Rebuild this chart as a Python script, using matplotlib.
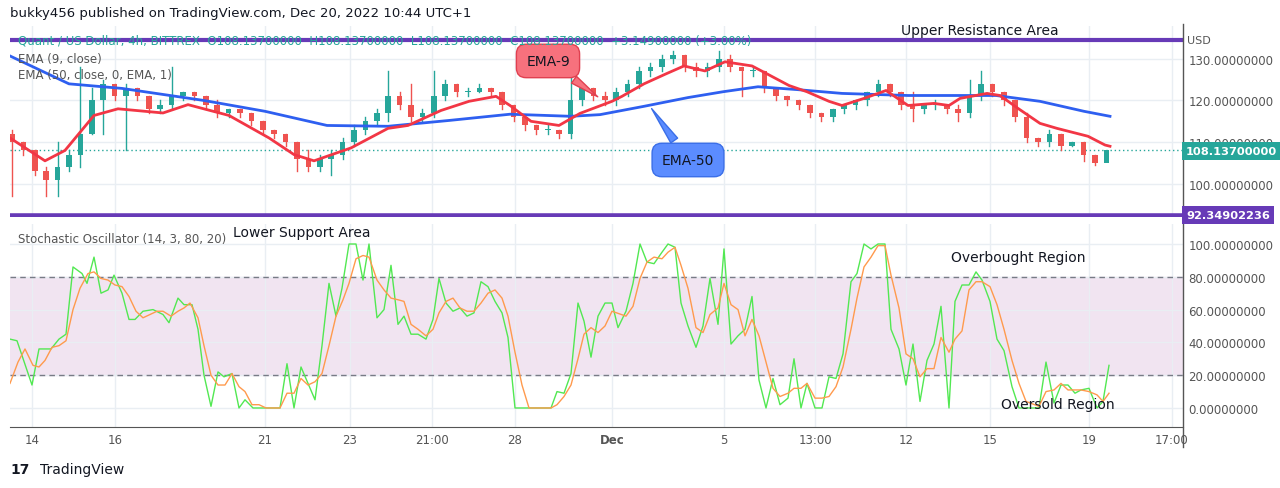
import matplotlib.pyplot as plt
import numpy as np

# price candles (4h bars)
closes = [110, 108, 103, 101, 104, 107, 112, 120, 124, 121, 123, 121, 118, 119, 121, 122, 121, 119, 117, 118,
          117, 115, 113, 112, 110, 106, 104, 106, 107, 110, 113, 115, 117, 121, 119, 116, 117, 121, 124, 122,
          122, 123, 122, 119, 116, 114, 113, 113, 112, 120, 123, 121, 120, 122, 124, 127, 128, 130, 131, 128,
          127, 128, 130, 128, 127, 127, 123, 121, 120, 119, 117, 116, 118, 119, 120, 122, 124, 122, 119, 118,
          119, 119, 118, 117, 121, 124, 122, 120, 116, 111, 110, 112, 109, 110, 107, 105, 108.137]
highs = [113, 110, 108, 104, 110, 108, 128, 123, 125, 124, 124, 123, 121, 120, 128, 122, 122, 121, 120, 118,
         118, 117, 115, 113, 112, 110, 108, 107, 108, 111, 114, 116, 118, 127, 122, 124, 118, 127, 125, 124,
         123, 124, 123, 122, 119, 116, 114, 114, 113, 130, 124, 123, 122, 123, 125, 128, 129, 131, 132, 131,
         129, 129, 132, 131, 128, 128, 127, 123, 121, 120, 119, 117, 118, 119, 120, 122, 125, 124, 122, 122,
         119, 120, 119, 119, 125, 127, 124, 122, 120, 117, 111, 113, 112, 110, 110, 107, 108.2]
lows = [97, 107, 102, 97, 97, 103, 104, 112, 112, 120, 108, 120, 117, 117, 118, 120, 120, 118, 116, 116,
        116, 114, 112, 111, 109, 103, 103, 103, 102, 106, 109, 112, 114, 115, 118, 115, 115, 116, 120, 121,
        121, 122, 121, 118, 115, 113, 112, 112, 111, 111, 119, 120, 119, 119, 121, 123, 126, 127, 129, 127,
        126, 126, 127, 127, 121, 126, 122, 120, 119, 118, 116, 115, 115, 117, 118, 119, 121, 121, 118, 115,
        117, 118, 117, 115, 116, 120, 121, 119, 115, 110, 109, 109, 108, 109, 105.5, 104.5, 108.1]
opens = [112] + closes[:-1]

# EMA lines (time in chart units, value)
ema9_t = [10, 45, 65, 94, 118, 163, 188, 229, 269, 294, 314, 351, 388, 408, 441, 469, 496, 510, 531, 559,
          580, 612, 622, 644, 666, 684, 705, 725, 752, 767, 789, 807, 829, 842, 864, 886, 908, 934, 949,
          960, 987, 1000, 1018, 1040, 1057, 1088, 1105, 1110]
ema9_v = [111, 105.5, 108, 116.4, 118, 117, 119, 116.4, 111, 107, 105.5, 108.6, 113.3, 114, 117.6, 119.8,
          121, 118.8, 115, 114, 116.9, 119.8, 121, 124, 126.4, 128.3, 127.1, 129.3, 128.3, 126.4, 123.6,
          122.1, 119.8, 118.8, 120.5, 122.4, 118.8, 119.3, 118.8, 120.5, 121.7, 121.2, 118.1, 114.5, 113.3,
          111.4, 109.3, 109]
ema50_t = [10, 69, 122, 204, 265, 327, 388, 449, 510, 571, 600, 644, 688, 723, 758, 798, 842, 908, 952,
           996, 1040, 1084, 1110]
ema50_v = [130.7, 124, 122.9, 120, 117.4, 114, 113.8, 115.2, 116.7, 116.2, 116.6, 118.6, 120.7, 122.1,
           123.3, 122.6, 121.7, 121.2, 121.2, 121.2, 119.8, 117.4, 116.2]

# stochastic %K and %D
k_t = [10, 17, 32, 39, 51, 59, 66, 73, 82, 87, 94, 101, 108, 114, 122, 129, 135, 143, 153, 163, 169, 178,
       184, 192, 198, 204, 211, 218, 224, 232, 239, 245, 253, 280, 287, 294, 301, 308, 315, 322, 329, 336,
       342, 349, 356, 363, 369, 377, 384, 391, 398, 404, 411, 418, 426, 433, 439, 446, 453, 460, 467, 474,
       481, 488, 495, 502, 508, 515, 551, 557, 564, 571, 578, 584, 591, 598, 605, 612, 618, 626, 633, 640,
       647, 654, 662, 668, 675, 681, 688, 696, 703, 710, 718, 724, 731, 738, 745, 752, 759, 766, 773, 780,
       788, 794, 801, 807, 815, 822, 829, 836, 843, 851, 857, 864, 871, 878, 885, 891, 899, 906, 913, 920,
       927, 934, 941, 949, 955, 962, 969, 976, 982, 990, 997, 1004, 1012, 1019, 1026, 1039, 1046, 1054,
       1061, 1068, 1075, 1081, 1089, 1097, 1103, 1109]
k_v = [42, 41, 14, 36, 36, 42, 45, 86, 82, 76, 92, 70, 72, 81, 70, 54, 54, 59, 60, 57, 52, 67, 63, 63, 48,
       20, 1, 22, 19, 21, 0, 5, 0, 0, 27, 0, 25, 15, 5, 38, 76, 56, 73, 100, 100, 78, 100, 55, 60, 87, 51,
       56, 45, 45, 42, 54, 79, 64, 59, 61, 56, 58, 77, 74, 65, 58, 43, 0, 0, 10, 9, 21, 64, 53, 31, 56, 64,
       64, 49, 59, 76, 100, 89, 88, 95, 100, 98, 64, 50, 37, 50, 79, 51, 97, 39, 44, 48, 68, 17, 0, 18, 2,
       6, 30, 0, 15, 0, 0, 19, 18, 33, 77, 82, 100, 97, 100, 100, 48, 36, 14, 39, 4, 29, 39, 62, 0, 65, 75,
       75, 83, 78, 65, 42, 35, 13, 0, 0, 0, 28, 3, 14, 14, 9, 11, 12, 0, 4, 26]
d_t = [10, 18, 25, 33, 39, 45, 52, 59, 66, 73, 80, 88, 94, 101, 108, 115, 122, 129, 136, 143, 150, 157, 163,
       171, 178, 184, 190, 198, 204, 211, 218, 225, 232, 239, 245, 252, 259, 266, 280, 287, 294, 301, 308,
       315, 322, 329, 336, 343, 349, 356, 363, 369, 377, 384, 391, 398, 404, 411, 418, 426, 433, 439, 446,
       453, 460, 467, 474, 481, 488, 495, 502, 508, 515, 522, 529, 551, 557, 564, 571, 578, 584, 591, 598,
       605, 612, 626, 633, 640, 647, 654, 662, 668, 675, 681, 688, 696, 703, 710, 718, 724, 731, 738, 745,
       752, 759, 766, 773, 780, 788, 794, 801, 807, 815, 822, 829, 836, 843, 851, 857, 864, 871, 878, 885,
       891, 899, 906, 913, 920, 927, 934, 941, 949, 955, 962, 969, 976, 982, 990, 997, 1004, 1012, 1019,
       1026, 1039, 1046, 1054, 1061, 1068, 1075, 1081, 1089, 1097, 1103, 1109]
d_v = [15, 28, 36, 26, 25, 29, 37, 38, 41, 60, 73, 82, 83, 79, 78, 75, 74, 68, 59, 55, 57, 59, 59, 56, 59,
       61, 64, 55, 38, 20, 14, 14, 21, 13, 10, 2, 2, 0, 0, 9, 9, 18, 14, 16, 21, 38, 56, 66, 76, 91, 93, 92,
       78, 72, 67, 66, 65, 51, 48, 44, 48, 58, 65, 67, 61, 59, 59, 64, 70, 72, 67, 56, 34, 14, 0, 0, 2, 7,
       14, 30, 45, 49, 46, 50, 59, 56, 62, 79, 89, 92, 91, 95, 98, 87, 73, 49, 46, 57, 61, 76, 63, 60, 44,
       54, 44, 28, 12, 7, 9, 12, 12, 15, 6, 6, 7, 13, 25, 48, 67, 86, 92, 99, 99, 81, 61, 33, 30, 19, 24,
       24, 43, 34, 42, 47, 72, 77, 77, 74, 63, 48, 29, 15, 4, 1, 10, 11, 15, 11, 11, 11, 10, 8, 4, 9]

price_ticks = [100, 110, 120, 130]
stoch_ticks = [0, 20, 40, 60, 80, 100]
date_pos = [32, 115, 265, 350, 432, 515, 612, 724, 815, 906, 990, 1089, 1172]
date_lbl = ['14', '16', '21', '23', '21:00', '28', 'Dec', '5', '13:00', '12', '15', '19', '17:00']
last_price = 108.137
support = 92.34902236
resistance = 134.5

UP, DN = '#26a69a', '#ef5350'
GRID = '#e9eef3'
TXT = '#131722'

W, H = 1280, 489
fig = plt.figure(figsize=(12.8, 4.89), dpi=100)
x0, x1 = 10 / W, 1183 / W
ax = fig.add_axes([x0, 1 - 218 / H, x1 - x0, (218 - 27) / H])
ax2 = fig.add_axes([x0, 1 - 428 / H, x1 - x0, (428 - 225) / H])
xlim = (10, 1183)

# candles
bar_t = 12 + 11.4 * np.arange(len(closes))
for t, o, c, h, l in zip(bar_t, opens, closes, highs, lows):
    col = UP if c >= o else DN
    ax.plot([t, t], [l, h], color=col, lw=1, zorder=3)
    ax.bar(t, max(abs(c - o), 0.25), bottom=min(o, c), width=5.5, color=col, zorder=3)

ax.plot(ema50_t, ema50_v, color='#2e5ff0', lw=2, zorder=4)
ax.plot(ema9_t, ema9_v, color='#f23645', lw=2, zorder=4)
ax.axhline(last_price, color=UP, lw=1, ls=(0, (1, 2)), zorder=2)
ax.axhline(resistance, color='#673ab7', lw=3, zorder=5)
ax.axhline(support, color='#673ab7', lw=4, zorder=5)

ax.set_xlim(*xlim)
ax.set_ylim(92.0, 137.9)
ax.set_yticks(price_ticks)
ax.set_xticks(date_pos)
ax.grid(color=GRID, lw=1)
ax.tick_params(length=0, labelbottom=False, labelleft=False, labelright=True, labelsize=8.5, colors='#555', pad=4)
for s in ax.spines.values():
    s.set_visible(False)
ax.yaxis.set_major_formatter(plt.FuncFormatter(lambda v, p: f'{v:.8f}'))

# stochastic
ax2.axhspan(20, 80, color='#f1e4f1', zorder=0)
ax2.axhline(80, color='#787b86', lw=1, ls=(0, (4, 3)))
ax2.axhline(20, color='#787b86', lw=1, ls=(0, (4, 3)))
ax2.plot(k_t, k_v, color='#52e852', lw=1, zorder=3)
ax2.plot(d_t, d_v, color='#ff9a4d', lw=1, zorder=3)
ax2.set_xlim(*xlim)
ax2.set_ylim(-11.6, 112.2)
ax2.set_yticks(stoch_ticks)
ax2.set_xticks(date_pos)
ax2.set_xticklabels(date_lbl)
ax2.get_xticklabels()[6].set_fontweight('bold')
ax2.grid(color=GRID, lw=1)
ax2.tick_params(length=0, labelleft=False, labelright=True, labelsize=8.5, colors='#555', pad=4)
for s in ax2.spines.values():
    s.set_visible(False)
ax2.spines['bottom'].set_visible(True)
ax2.spines['bottom'].set_color('#555')
ax2.yaxis.set_major_formatter(plt.FuncFormatter(lambda v, p: f'{v:.8f}'))

# right axis separator and price boxes
fig.add_artist(plt.Line2D([1183 / W, 1183 / W], [1 - 448 / H, 1 - 25 / H], color='#555', lw=1))
fig.text(1187 / W, 1 - 41 / H, 'USD', fontsize=8, color='#555', va='center')
fig.text(1186 / W, 1 - 152 / H, f'{last_price:.8f}', fontsize=8.2, color='white', va='center', fontweight='bold',
         bbox=dict(boxstyle='square,pad=0.35', fc=UP, ec='none'), zorder=10)
fig.text(1186 / W, 1 - 216 / H, f'{support:.8f}', fontsize=8.2, color='white', va='center', fontweight='bold',
         bbox=dict(boxstyle='square,pad=0.35', fc='#673ab7', ec='none'), zorder=10)

# header texts
fig.text(10 / W, 1 - 14 / H, 'bukky456 published on TradingView.com, Dec 20, 2022 10:44 UTC+1', fontsize=9.5,
         color=TXT, va='center')
fig.text(18 / W, 1 - 41 / H, 'Quant / US Dollar, 4h, BITTREX  O108.13700000  H108.13700000  L108.13700000  '
         'C108.13700000  +3.14900000 (+3.00%)', fontsize=8.5, color=UP, va='center', zorder=1)
fig.text(18 / W, 1 - 59 / H, 'EMA (9, close)', fontsize=8.5, color='#555', va='center')
fig.text(18 / W, 1 - 75 / H, 'EMA (50, close, 0, EMA, 1)', fontsize=8.5, color='#555', va='center')
fig.text(18 / W, 1 - 240 / H, 'Stochastic Oscillator (14, 3, 80, 20)', fontsize=8.5, color='#555', va='center')
fig.text(40 / W, 1 - 470 / H, 'TradingView', fontsize=10, color=TXT, va='center')
fig.text(10 / W, 1 - 470 / H, '17', fontsize=10, color=TXT, va='center', fontweight='heavy')

fig.text(980 / W, 1 - 31 / H, 'Upper Resistance Area', fontsize=10, color=TXT, ha='center', va='center')
fig.text(302 / W, 1 - 233 / H, 'Lower Support Area', fontsize=10, color=TXT, ha='center', va='center')
fig.text(1018 / W, 1 - 258 / H, 'Overbought Region', fontsize=10, color=TXT, ha='center', va='center')
fig.text(1058 / W, 1 - 405 / H, 'Oversold Region', fontsize=10, color=TXT, ha='center', va='center')

# callouts
ax.annotate('EMA-9', xy=(600, 120.5), xytext=(548, 129.5), fontsize=10, color=TXT, ha='center', va='center',
            bbox=dict(boxstyle='round,pad=0.7', fc='#f7717d', ec='#e04050'),
            arrowprops=dict(arrowstyle='wedge,tail_width=0.6', fc='#f7717d', ec='#e04050'), zorder=6)
ax.annotate('EMA-50', xy=(650, 118.6), xytext=(688, 105.7), fontsize=10, color=TXT, ha='center', va='center',
            bbox=dict(boxstyle='round,pad=0.7', fc='#5b8cff', ec='#3a6ee8'),
            arrowprops=dict(arrowstyle='wedge,tail_width=0.6', fc='#5b8cff', ec='#3a6ee8'), zorder=6)

fig.savefig('out.png', dpi=100, facecolor='white')
